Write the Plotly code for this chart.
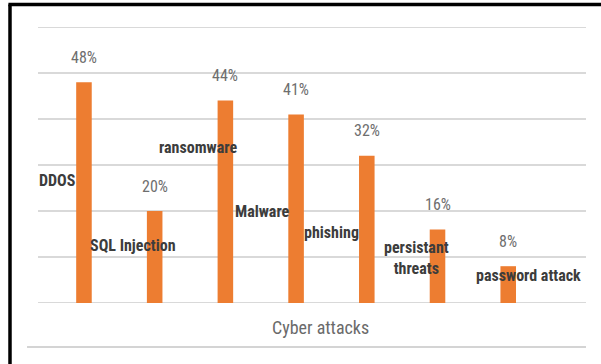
import plotly.graph_objects as go

categories = ["DDOS", "SQL Injection", "ransomware", "Malware", "phishing",
              "persistant<br>threats", "password attack"]
values = [48, 20, 44, 41, 32, 16, 8]
value_labels = ["48%", "20%", "44%", "41%", "32%", "16%", "8%"]
y_max = 60

# where each category caption sits (x offset from its bar, y in axis units)
label_dx = [-0.37, -0.31, -0.39, -0.47, -0.50, -0.30, 0.28]
label_y = [26.7, 12.6, 33.7, 19.8, 15.4, 9.7, 5.9]

xs = list(range(len(categories)))

fig = go.Figure()
fig.add_trace(go.Bar(x=xs, y=values, width=0.22, marker_color="#ED7D31",
                     marker_line_width=0, hoverinfo="skip"))

font_fam = "Liberation Sans Narrow, Roboto Condensed, Lato, sans-serif"
ann = []
for x, v, t in zip(xs, values, value_labels):
    ann.append(dict(x=x, y=v, text=t, showarrow=False, yshift=25,
                    font=dict(family=font_fam, size=16, color="#6e6e6e")))
for x, dx, ly, c in zip(xs, label_dx, label_y, categories):
    ann.append(dict(x=x + dx, y=ly, text="<b>" + c + "</b>", showarrow=False,
                    font=dict(family=font_fam, size=16, color="#3c3c3c")))
ann.append(dict(x=0.515, y=-0.09, xref="paper", yref="paper", text="Cyber attacks",
                showarrow=False, yanchor="middle",
                font=dict(family=font_fam, size=18, color="#6a6a6a")))

shapes = [
    # edge gridlines (0 and max) that plotly omits at the range boundaries
    dict(type="line", xref="paper", yref="y", x0=0, x1=1, y0=0, y1=0, layer="below",
         line=dict(color="#d9d9d9", width=2)),
    dict(type="line", xref="paper", yref="y", x0=0, x1=1, y0=y_max, y1=y_max, layer="below",
         line=dict(color="#d9d9d9", width=2)),
    dict(type="line", xref="paper", yref="paper", x0=-0.02, x1=1.0, y0=-0.159, y1=-0.159,
         line=dict(color="#d4d4d4", width=2)),
    dict(type="line", xref="paper", yref="paper", x0=-0.054, x1=1.03, y0=1.0815, y1=1.0815,
         line=dict(color="#000000", width=3.5)),
    dict(type="line", xref="paper", yref="paper", x0=-0.0511, x1=-0.0511, y0=1.0815, y1=-0.25,
         line=dict(color="#000000", width=3.5)),
]

fig.update_layout(
    width=601, height=364,
    margin=dict(l=38, r=15, t=27, b=61),
    paper_bgcolor="white", plot_bgcolor="white",
    showlegend=False,
    annotations=ann, shapes=shapes,
    xaxis=dict(range=[-0.65, 7.1], showgrid=False, zeroline=False,
               showticklabels=False, ticks=""),
    yaxis=dict(range=[0, y_max], tick0=0, dtick=10, showgrid=True, gridcolor="#d9d9d9",
               gridwidth=2, zeroline=False, showticklabels=False, ticks=""),
)

fig.write_html("out.html")
